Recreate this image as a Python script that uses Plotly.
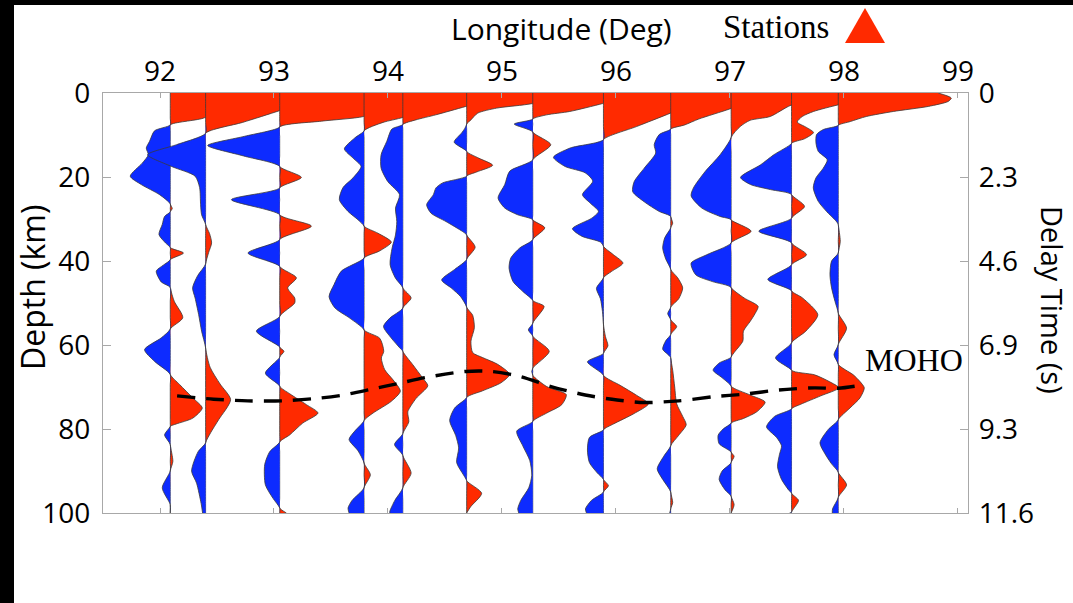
import plotly.graph_objects as go

# ---------------- data ----------------
STATION_LON = [92.09, 92.40, 93.05, 93.79, 94.13, 94.69, 95.27, 95.89, 96.48, 97.01, 97.54, 97.95]
GAIN = 1 / 114.0  # degrees of longitude per amplitude unit

TRACE_01 = [(0, 80), (3, 58), (6, 33), (7.6, 0), (9.0, -15.7), (11.5, -20.7), (13.1, -24), (14.7, -22), (16.7, -28),
            (19.8, -40), (21.8, -29), (24.2, -10.7), (26.4, 0), (27.5, 2), (28.3, 0), (29.4, -5.7), (31.3, -8),
            (33.7, -11.3), (35.7, -4.7), (36.8, 0), (38.1, 13.3), (39.7, 0), (41, -7), (42.4, -14), (45, -9),
            (46.3, 0), (49.6, 4), (53.5, 12.5), (56.2, 0), (58.3, -9), (61.1, -25.7), (63.9, -15.7), (67, 0),
            (69.4, 9.3), (72.6, 22.6), (75, 32), (77.4, 22.6), (78.8, 6), (79.4, 0), (81.4, -5.7), (83.7, 0),
            (87.7, 2.6), (90, 0), (94, -8), (98, 0), (100, 0)]
TRACE_02 = [(0, 125), (2, 100), (4.2, 74), (7, 37), (9.6, 0), (12.3, -29), (14.7, -58), (17.5, -34), (19.8, -10.5),
            (22.5, -6), (26.6, -5), (29, -4), (31.3, 0), (33.5, 4), (35.7, 6), (38, 3), (40.7, 0), (43.5, -8),
            (46.4, -13), (48.8, -10.5), (52.7, -7), (56.7, -4), (60.7, 0), (65.3, 4.5), (69.3, 14.5), (73, 25),
            (77.8, 13), (80.9, 5), (83.3, 0), (85.4, -7.5), (90, -14), (92.9, -9), (97.7, -4.5), (100, -3)]
TRACE_03 = [(0, 150), (3, 115), (5.6, 84), (6.7, 42), (8.1, 0), (10.3, -35), (12.5, -72), (15, -36), (17.5, 0),
            (20.1, 21.7), (22.6, 0), (25.4, -48.3), (29, 0), (31.7, 31.7), (34.9, 0), (38.1, -31.7), (41.3, 0),
            (44, 16.7), (46.4, 8), (48.8, 15), (50, 15), (53.2, 0), (56.7, -23.3), (60.5, 0), (61.5, 4.3),
            (62.9, 0), (66.7, -14.3), (69.8, 0), (71.6, 10), (74.2, 26.7), (76.2, 38.3), (78.6, 23), (81.4, 10),
            (83.1, 0), (85.4, -10), (88.5, -15), (93.3, -14.3), (96.5, -6.7), (98.8, 0), (100, 6.7)]
TRACE_04 = [(0, 100), (3, 68), (5.8, 39), (7.0, 19), (9.0, 0), (10.7, -9.3), (13.3, -19.7), (15.5, -11), (17.5, -3),
            (20.2, -11), (22.5, -21), (25.4, -24.7), (28.2, -16), (30.2, -6), (31.7, 0), (33.4, 14), (35.5, 27.3),
            (37.6, 15.6), (39.3, 0), (42.4, -22.7), (45.6, -30), (48.5, -35), (51.2, -29), (53.6, -14.3),
            (56.4, 0), (58.4, 15.7), (61.5, 19.7), (63.1, 17.3), (65.9, 20.7), (68.3, 29), (71, 36.3),
            (73.4, 27.3), (76.2, 9), (78, 0), (80.5, -9.3), (82.5, -15), (85.2, -6), (88.1, 0), (90.9, 6.3),
            (94, 0), (97, -12), (98.8, -16), (100, -15)]
TRACE_05 = [(0, 110), (3.2, 63), (5.2, 33), (6.4, 13), (7.5, 0), (8.6, -11), (11.5, -16), (14.7, -21.7),
            (17.9, -21.7), (21.1, -15), (24.2, -3.3), (27.4, -7.3), (30.6, -6), (33.8, -7.3), (36.9, -10.7),
            (40.9, -12.7), (44.1, -7.3), (46.4, 0), (48.8, 8.3), (51.2, 0), (53.6, -13), (55.6, -19.3),
            (58.3, -11.7), (60.7, -3), (61.5, 0), (64.7, 10), (67.9, 20), (69.7, 25), (72.7, 13.3), (75.9, 5),
            (78.3, 6), (81.1, 0), (83.7, -8.3), (86.3, 0), (90.5, 8.3), (94, 0), (97, -8), (99.6, -13), (100, -13)]
TRACE_06 = [(0, 100), (2.5, 66), (3.6, 30), (4.8, 11), (6.4, 4.3), (7.4, 0), (8.5, -2), (9.5, -5), (11.7, -12.5),
            (13.9, 0), (15.5, 12), (17.2, 26), (18.8, 10), (19.8, 0), (21.4, -24), (22.6, -30.7), (24.2, -33.3),
            (26.6, -40), (28.6, -35.7), (30.6, -20.7), (33, -4), (33.8, 0), (36.7, 8.5), (39.6, 0), (42, -12),
            (44.5, -25), (46.5, -15), (48.5, -6), (51, 0), (52.9, 6), (55.9, 7.7), (59.1, 4.3), (61.8, 6),
            (63, 16), (64.6, 31), (67, 43), (69, 34.3), (70.9, 16), (72.5, 0), (75, -12), (78, -17), (81.5, -11),
            (84.5, -8), (88, -10), (91, -3), (92.3, 0), (95.3, 15), (98.5, 4), (100, 0)]
TRACE_07 = [(0, 108), (2.5, 70), (4.4, 37), (5.2, 14), (6.2, 0), (7.4, -18.5), (9.3, 0), (12.3, 18), (15.9, 0),
            (18.6, -23), (21.8, -28), (25, -34.7), (27.4, -28), (29, -15), (30.2, 0), (32.1, 12), (34.9, 0),
            (36.9, -13), (39.3, -22), (41.7, -23.7), (44.9, -19.7), (47.3, -9.7), (49.4, 0), (50.8, 11.3),
            (54.8, 0), (56.4, -4.4), (57.9, 0), (61.5, 16.5), (65.5, 0), (66.3, -1), (67.2, 0), (69.9, 14),
            (71.8, 33.5), (74.2, 29), (76.2, 14), (78.2, 0), (80.5, -16), (84, -10), (87.5, -3), (91, -1),
            (94, -4), (97, -12), (99, -15), (100, -14)]
TRACE_08 = [(0, 115), (2.5, 90), (4.8, 67), (8, 33), (11.1, 0), (13.1, -33.3), (15.3, -50), (17.5, -38.3),
            (19, -18.3), (21, -10.7), (24.2, -21), (26.2, -13.3), (28.2, -5), (29.8, -11.7), (32.3, -31),
            (34.1, -21.7), (35.5, -3), (36.5, 0), (38.5, 10), (40.5, 19.5), (42.5, 8), (44, 0), (46.5, -7),
            (49, -3), (52, -1), (55, 0), (58, 2), (60.2, 4.5), (62, 0), (64, -16), (67.2, 0), (69.6, 16.7),
            (72, 33.3), (74, 45), (76.4, 30), (78.8, 10), (80.2, 0), (82, -14), (85, -16), (88, -14), (90.5, -6),
            (92, 0), (93.5, 5), (95, 0), (97, -12), (99, -18), (100, -17)]
TRACE_09 = [(0, 108), (2, 78), (3.8, 59), (6.2, 28), (7.6, 14), (8.6, 0), (9.9, -11.5), (12.3, -16.5), (14.3, -15),
            (17.9, -26.5), (21.1, -36.5), (23.5, -38), (25.9, -26.5), (28.2, -11.5), (29.4, 0), (31, 2), (32.1, 0),
            (34.5, -6), (36.9, -8), (39.5, -5), (42, 0), (44, 7), (46.4, 12), (49, 8), (51, 0), (52.5, -3),
            (54, 0), (55.6, 6), (57.5, 0), (59, -5), (61, -8), (63, 0), (66, 2), (70, 4), (74, 6), (77, 12),
            (79, 15.5), (81.5, 8), (84, 0), (86.5, -7), (89.5, -13.5), (92, -8), (95, 0), (97.5, 2), (99, 0),
            (100, -1)]
TRACE_10 = [(0, 108), (2.9, 60), (5.6, 39), (6.5, 19), (8, 9), (10.6, 0), (14.7, -11), (18.7, -26), (22.6, -37.7),
            (24.5, -40), (27.4, -29.3), (29.4, -11), (30.2, 0), (32.9, 20), (35.7, 0), (38.5, -24.3), (40.5, -40),
            (43.3, -35.3), (44.9, -18.7), (46.3, 0), (48.8, 13), (50.8, 27), (52.5, 24), (54.4, 19), (56.7, 12.3),
            (59.1, 11.7), (61.5, 4), (62.9, 0), (64.3, -12), (66, -18), (67.8, -9), (69.8, 0), (71.9, 19),
            (73.6, 34), (75.9, 25.7), (77.5, 12.3), (78.6, 0), (80, -8), (81.5, -13), (83.5, -12), (85.5, 0),
            (86.5, 3), (88, 0), (90, -9), (92, -12), (94.5, -6), (96, 0), (98, 3), (100, 0)]
TRACE_11 = [(0, 100), (1.5, 72), (2.8, 47), (4.4, 22), (5.6, 10.7), (6.9, 5.7), (8.2, 15), (9.4, 22), (10.9, 13),
            (12, 0), (14.7, -17.7), (17.1, -31), (20.1, -51), (21.8, -41), (23, -21), (24.2, 0), (27, 13),
            (29.8, 0), (32.9, -32.7), (35.7, 0), (38.5, 15), (40.9, 0), (44.4, -23.7), (47.1, 0), (48.8, 11),
            (52.8, 26.3), (56.7, 14.3), (59.5, 0), (63.1, -16), (66, 0), (67.1, 23), (68.7, 37.7), (70.2, 47.3),
            (72.1, 29.3), (74.1, 9.3), (75.2, 0), (77, -17), (79.5, -25), (82, -15), (84, -10), (86, -12),
            (89, -14), (92, -10), (94.5, -3), (95.3, 0), (97, 7), (99, 2), (99.8, 0), (100, -2)]
TRACE_12 = [(0, 100), (1.2, 113), (2, 110), (3.2, 90), (4.4, 55), (5.6, 28), (6.8, 12), (7.7, 0), (8.7, -15),
            (9.9, -21.7), (11.9, -22.3), (13.9, -20), (15.9, -11), (17.9, -15), (20.2, -22.3), (22.6, -25),
            (25.8, -20), (28.2, -11.7), (30.2, -3.3), (31.3, 0), (35.3, 2), (38.1, 0), (40, -6.7), (43.3, -8.3),
            (46.4, -6.7), (49.6, -3.3), (52.4, 0), (56, 8.3), (59.9, 0), (62.3, -4.3), (64.6, 0), (67.1, 15),
            (68.7, 21.7), (70.2, 26), (72.6, 21.7), (75, 11.7), (77.8, 0), (80.1, -10), (83.3, -18.3),
            (85.9, -13.3), (88.3, -6.7), (90.3, 0), (93.3, 8.3), (96.3, 0), (99, -5.7), (100, -6)]
TRACES = [TRACE_01, TRACE_02, TRACE_03, TRACE_04, TRACE_05, TRACE_06,
          TRACE_07, TRACE_08, TRACE_09, TRACE_10, TRACE_11, TRACE_12]

MOHO_LON = [92.15, 92.47, 92.77, 93.07, 93.38, 93.61, 93.86, 94.10, 94.34, 94.68, 94.91, 95.16, 95.43,
            95.73, 96.01, 96.25, 96.55, 96.86, 97.13, 97.43, 97.74, 97.95, 98.19]
MOHO_DEPTH = [72.1, 72.9, 73.3, 73.3, 72.7, 71.9, 70.5, 69.1, 67.7, 66.3, 66.3, 67.5, 69.9,
              71.9, 73.1, 73.7, 73.3, 72.3, 71.7, 70.7, 70.2, 70.3, 69.4]

LON_TICKS = [92, 93, 94, 95, 96, 97, 98, 99]
DEPTH_TICKS = [0, 20, 40, 60, 80, 100]
DELAY_LABELS = ["0", "2.3", "4.6", "6.9", "9.3", "11.6"]

# ---------------- style ----------------
RED = "#FF2A00"
BLUE = "#0D2BFF"
EDGE = "#3a3a3a"
AXC = "#a8a8a8"
SANS = "Open Sans"
SERIF = "Liberation Serif"

fig = go.Figure()
for lon, tr in zip(STATION_LON, TRACES):
    d = [p[0] for p in tr]
    a = [p[1] * GAIN for p in tr]
    base = [lon] * len(d)
    pos = [lon + max(v, 0) for v in a]
    neg = [lon + min(v, 0) for v in a]
    for part, col in ((pos, RED), (neg, BLUE)):
        fig.add_trace(go.Scatter(x=base, y=d, mode="lines", line=dict(width=0),
                                 hoverinfo="skip", showlegend=False))
        fig.add_trace(go.Scatter(x=part, y=d, mode="lines", fill="tonextx", fillcolor=col,
                                 line=dict(color=EDGE, width=0.8, shape="spline", smoothing=0.7),
                                 hoverinfo="skip", showlegend=False))

fig.add_trace(go.Scatter(x=MOHO_LON, y=MOHO_DEPTH, mode="lines",
                         line=dict(color="black", width=3.4, dash="18px,11px", shape="spline", smoothing=0.8),
                         hoverinfo="skip", showlegend=False))
# right-hand delay-time axis carrier
fig.add_trace(go.Scatter(x=[STATION_LON[0]], y=[DEPTH_TICKS[0]], yaxis="y2", mode="markers",
                         marker=dict(opacity=0), hoverinfo="skip", showlegend=False))

W, H = 1073, 603
L, R, T, B = 103, 968, 93, 513


def px(x):
    return (x - L) / (R - L)


def py(y):
    return (B - y) / (B - T)


fig.update_layout(
    width=W, height=H,
    margin=dict(l=L, r=W - R, t=T, b=H - B),
    paper_bgcolor="white", plot_bgcolor="white",
    showlegend=False,
    xaxis=dict(range=[91.5, 99.088], side="top", tickvals=LON_TICKS, ticks="inside", ticklen=5,
               tickcolor=AXC, showline=True, linecolor=AXC, linewidth=1.2, mirror="ticks",
               showgrid=False, zeroline=False, tickfont=dict(family=SANS, size=28, color="black")),
    yaxis=dict(range=[100, 0], tickvals=DEPTH_TICKS, ticks="inside", ticklen=8, tickcolor=AXC,
               showline=True, linecolor=AXC, linewidth=1.2, mirror=True, showgrid=False, zeroline=False,
               ticklabelstandoff=6, tickfont=dict(family=SANS, size=28, color="black")),
    yaxis2=dict(range=[100, 0], overlaying="y", side="right", tickvals=DEPTH_TICKS, ticktext=DELAY_LABELS,
                ticks="inside", ticklen=8, tickcolor=AXC, showline=True, linecolor=AXC, linewidth=1.2,
                showgrid=False, zeroline=False, ticklabelstandoff=4,
                tickfont=dict(family=SANS, size=28, color="black")),
    annotations=[
        dict(text="Longitude (Deg)", x=px(561), y=py(28), xref="paper", yref="paper", showarrow=False,
             xanchor="center", yanchor="middle", font=dict(family=SANS, size=30, color="black")),
        dict(text="Stations", x=px(776), y=py(27), xref="paper", yref="paper", showarrow=False,
             xanchor="center", yanchor="middle", font=dict(family=SERIF, size=33, color="black")),
        dict(text="Depth (km)", x=px(32), y=py(288), xref="paper", yref="paper", showarrow=False,
             textangle=-90, xanchor="center", yanchor="middle", font=dict(family=SANS, size=32, color="black")),
        dict(text="Delay Time (s)", x=px(1053), y=py(300), xref="paper", yref="paper", showarrow=False,
             textangle=90, xanchor="center", yanchor="middle", font=dict(family=SANS, size=29, color="black")),
        dict(text="MOHO", x=px(914), y=py(360), xref="paper", yref="paper", showarrow=False,
             xanchor="center", yanchor="middle", font=dict(family=SERIF, size=32, color="black")),
    ],
    shapes=[
        dict(type="path", xref="paper", yref="paper",
             path=f"M {px(845)},{py(43)} L {px(885)},{py(43)} L {px(865)},{py(8)} Z",
             fillcolor=RED, line=dict(width=0)),
        dict(type="rect", xref="paper", yref="paper", x0=px(0), x1=px(14), y0=py(H), y1=py(0),
             fillcolor="black", line=dict(width=0)),
        dict(type="rect", xref="paper", yref="paper", x0=px(0), x1=px(W), y0=py(5), y1=py(0),
             fillcolor="black", line=dict(width=0)),
    ],
)

fig.write_html("out.html")
